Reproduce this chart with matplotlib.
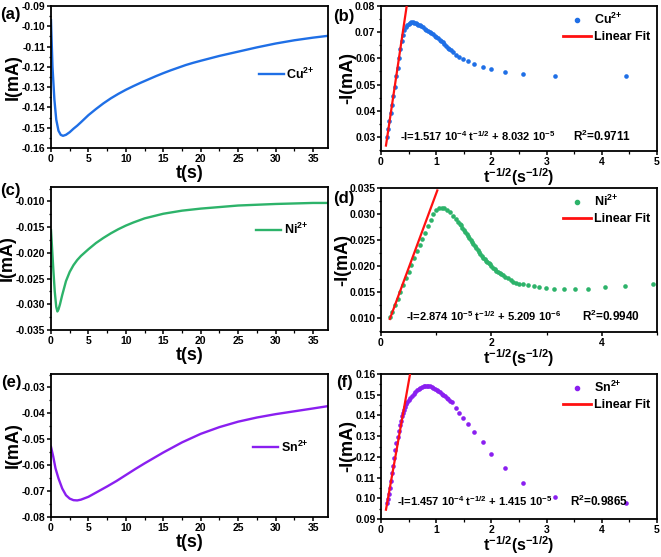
import numpy as np
import matplotlib
matplotlib.use("Agg")
import matplotlib.pyplot as plt
from matplotlib.ticker import MultipleLocator, FormatStrFormatter, AutoMinorLocator
from matplotlib.lines import Line2D

plt.rcParams['font.family'] = ['Liberation Sans', 'DejaVu Sans']
plt.rcParams['font.weight'] = 'bold'
plt.rcParams['axes.labelweight'] = 'bold'
plt.rcParams['mathtext.fontset'] = 'custom'
plt.rcParams['mathtext.rm'] = 'Liberation Sans:bold'
plt.rcParams['mathtext.bf'] = 'Liberation Sans:bold'
plt.rcParams['mathtext.default'] = 'rm'

# ---------- data ----------
# chronoamperometry, Cu
t_cu = [0, 0.05, 0.2, 0.45, 0.7, 1.0, 1.3, 1.6, 2.0, 2.5, 3.0, 3.5, 4, 5, 6, 7, 8, 9,
        10, 11, 12, 13, 14, 15, 16, 17, 18, 19, 20, 22.5, 25, 27.5, 30, 32.5, 35, 37]
i_cu = [-0.097, -0.103, -0.120, -0.136, -0.146, -0.1515, -0.1535, -0.154, -0.1535,
        -0.1522, -0.1505, -0.149, -0.1473, -0.1438, -0.1408, -0.1380, -0.1355, -0.1333,
        -0.1313, -0.1295, -0.1278, -0.1262, -0.1246, -0.1231, -0.1217, -0.1204, -0.1191,
        -0.1180, -0.1170, -0.1146, -0.1125, -0.1104, -0.1085, -0.1069, -0.1056, -0.1047]

# chronoamperometry, Ni
t_ni = [0, 0.1, 0.3, 0.5, 0.7, 0.85, 1.0, 1.2, 1.5, 2.0, 2.5, 3.0, 3.5, 4, 5, 6, 7,
        8, 9, 10, 11, 12.5, 15, 17.5, 20, 22.5, 25, 30, 35, 37]
i_ni = [-0.0156, -0.018, -0.023, -0.0275, -0.0305, -0.0314, -0.0310, -0.0300,
        -0.0282, -0.0255, -0.0237, -0.0224, -0.0214, -0.0206, -0.0193, -0.0181,
        -0.0171, -0.0162, -0.0154, -0.0147, -0.0141, -0.0133, -0.0124, -0.0118,
        -0.0114, -0.0111, -0.0108, -0.0105, -0.0103, -0.0103]

# chronoamperometry, Sn
t_sn = [0, 0.3, 0.6, 1.0, 1.5, 2.0, 2.5, 3.0, 3.5, 4, 5, 6, 7.5, 8.75, 10, 11.25,
        12.5, 15, 17.5, 20, 22.5, 25, 27.5, 30, 32.5, 35, 37]
i_sn = [-0.0529, -0.0567, -0.0612, -0.0651, -0.0690, -0.0716, -0.0729, -0.0735,
        -0.0736, -0.0733, -0.0722, -0.0706, -0.0682, -0.0661, -0.0638, -0.0615,
        -0.0593, -0.0551, -0.0512, -0.0479, -0.0453, -0.0432, -0.0416, -0.0403,
        -0.0392, -0.0381, -0.0372]

# -I vs t^-1/2, Cu
x_cu = [0.10, 0.125, 0.15, 0.175, 0.20, 0.225, 0.25, 0.275, 0.30, 0.325, 0.35, 0.375,
        0.40, 0.425, 0.45, 0.475, 0.50, 0.525, 0.55, 0.575, 0.60, 0.625, 0.65, 0.675,
        0.70, 0.73, 0.76, 0.79, 0.82, 0.85, 0.88, 0.91, 0.94, 0.97, 1.00, 1.03, 1.06,
        1.09, 1.12, 1.15, 1.18, 1.21, 1.24, 1.27, 1.30, 1.35, 1.42, 1.49, 1.58, 1.69,
        1.84, 2.0, 2.24, 2.58, 3.16, 4.43]
y_cu = [0.030, 0.033, 0.036, 0.039, 0.042, 0.0455, 0.049, 0.0532, 0.0565, 0.060,
        0.0635, 0.0665, 0.069, 0.0708, 0.072, 0.0728, 0.0733, 0.0736, 0.0737, 0.0737,
        0.0736, 0.0734, 0.0731, 0.0729, 0.0727, 0.0723, 0.0719, 0.0714, 0.0710, 0.0706,
        0.0701, 0.0697, 0.0692, 0.0687, 0.0682, 0.0677, 0.0672, 0.0667, 0.0661, 0.0654,
        0.0647, 0.0641, 0.0636, 0.0630, 0.0625, 0.0614, 0.0605, 0.0596, 0.0589, 0.058,
        0.0568, 0.0558, 0.0547, 0.054, 0.0532, 0.0532]

# -I vs t^-1/2, Ni
x_ni = [0.16, 0.20, 0.25, 0.30, 0.35, 0.40, 0.45, 0.50, 0.55, 0.60, 0.65, 0.70, 0.75,
        0.80, 0.85, 0.90, 0.95, 1.00, 1.05, 1.10, 1.15, 1.20, 1.25, 1.30, 1.35, 1.40,
        1.425, 1.45, 1.475, 1.50, 1.525, 1.55, 1.575, 1.60, 1.625, 1.65, 1.675, 1.70,
        1.725, 1.75, 1.775, 1.80, 1.825, 1.85, 1.875, 1.90, 1.925, 1.95, 1.975, 2.00,
        2.03, 2.06, 2.09, 2.12, 2.15, 2.18, 2.21, 2.25, 2.30, 2.35, 2.40, 2.45, 2.50,
        2.57, 2.67, 2.77, 2.87, 2.99, 3.14, 3.31, 3.51, 3.75, 4.05, 4.42, 4.92]
y_ni = [0.0102, 0.0111, 0.0124, 0.0137, 0.0150, 0.0163, 0.0176, 0.0189, 0.0202,
        0.0215, 0.0228, 0.0240, 0.0252, 0.0264, 0.0277, 0.0289, 0.0300, 0.0307,
        0.0311, 0.0312, 0.0311, 0.0308, 0.0303, 0.0297, 0.0291, 0.0285,
        0.0281, 0.0278, 0.0274, 0.0270, 0.0266, 0.0262, 0.0258, 0.0254, 0.0250,
        0.0246, 0.0242, 0.0238, 0.0234, 0.0230, 0.0227, 0.0223, 0.0220, 0.0216,
        0.0213, 0.0210, 0.0208, 0.0205, 0.0203, 0.0200, 0.0197, 0.0194, 0.0191,
        0.0188, 0.0186, 0.0184, 0.0182, 0.0179, 0.0176, 0.0173, 0.0170, 0.0168,
        0.0166, 0.01645, 0.01626, 0.01607, 0.01593, 0.01574, 0.01561, 0.01555,
        0.01555, 0.01561, 0.01588, 0.01613, 0.01646]

# -I vs t^-1/2, Sn
x_sn = [0.10, 0.12, 0.14, 0.16, 0.18, 0.20, 0.22, 0.24, 0.26, 0.28, 0.30, 0.32, 0.34,
        0.36, 0.38, 0.40, 0.42, 0.44, 0.46, 0.48, 0.50, 0.53, 0.56, 0.59, 0.62, 0.65,
        0.68, 0.71, 0.74, 0.77, 0.80, 0.83, 0.86, 0.89, 0.92, 0.95, 0.98, 1.01, 1.04,
        1.07, 1.10, 1.13, 1.16, 1.19, 1.22, 1.25, 1.28, 1.35, 1.42, 1.49, 1.58, 1.69,
        1.84, 2.0, 2.24, 2.58, 3.16, 4.43]
y_sn = [0.0975, 0.0995, 0.102, 0.105, 0.1085, 0.112, 0.1158, 0.1195, 0.1232, 0.1268,
        0.1298, 0.1326, 0.1352, 0.1375, 0.1395, 0.1412, 0.1428, 0.1441, 0.1453, 0.1464,
        0.1473, 0.1485, 0.1495, 0.1504, 0.1513, 0.1521, 0.1528, 0.1534, 0.1539, 0.1542,
        0.1543, 0.1543, 0.1542, 0.1540, 0.1537, 0.1533, 0.1528, 0.1523, 0.1517, 0.1511,
        0.1505, 0.1499, 0.1493, 0.1486, 0.1479, 0.1472, 0.1465, 0.1435, 0.1414, 0.1389,
        0.1357, 0.132, 0.1273, 0.1214, 0.1146, 0.1073, 0.1008, 0.0976]

# linear fits as drawn (slope, intercept in mA, x range)
fit_cu = (0.142, 0.0139, 0.09, 0.48)
fit_ni = (0.02874, 0.005209, 0.16, 1.02)
fit_sn = (0.150, 0.081, 0.09, 0.54)

eq_cu = r"-I=1.517 10$^{-4}$ t$^{-1/2}$ + 8.032 10$^{-5}$"
eq_ni = r"-I=2.874 10$^{-5}$ t$^{-1/2}$ + 5.209 10$^{-6}$"
eq_sn = r"-I=1.457 10$^{-4}$ t$^{-1/2}$ + 1.415 10$^{-5}$"
r2_cu = r"R$^2$=0.9711"
r2_ni = r"R$^2$=0.9940"
r2_sn = r"R$^2$=0.9865"

lab_cu = r'Cu$^{2{+}}$'
lab_ni = r'Ni$^{2{+}}$'
lab_sn = r'Sn$^{2{+}}$'

c_cu = '#1f6fe6'
c_ni = '#2db36a'
c_sn = '#8a1ff0'
c_fit = '#ff1010'

W, H = 661, 557
fig = plt.figure(figsize=(W / 100, H / 100), dpi=100)


def box(l, r, t, b):
    return [l / W, (H - b) / H, (r - l) / W, (b - t) / H]


def style(ax, fmt):
    for s in ax.spines.values():
        s.set_linewidth(1.3)
    ax.tick_params(which='major', direction='out', length=3, width=1.1,
                   labelsize=7.5, pad=1)
    ax.tick_params(which='minor', direction='out', length=1.8, width=0.9)
    ax.yaxis.set_major_formatter(FormatStrFormatter(fmt))
    ax.xaxis.set_minor_locator(AutoMinorLocator(2))
    ax.yaxis.set_minor_locator(AutoMinorLocator(2))
    for lab in ax.get_xticklabels() + ax.get_yticklabels():
        lab.set_fontweight('bold')


def time_panel(rect, t, i, color, label, ylim, ystep, fmt, leg_xy):
    ax = fig.add_axes(rect)
    ax.plot(t, i, color=color, lw=1.7, label=label)
    ax.set_xlim(0, 37)
    ax.set_ylim(*ylim)
    ax.xaxis.set_major_locator(MultipleLocator(5))
    ax.yaxis.set_major_locator(MultipleLocator(ystep))
    style(ax, fmt)
    ax.set_xlabel('t(s)', fontsize=13, labelpad=1)
    ax.set_ylabel('I(mA)', fontsize=13, labelpad=0)
    ax.legend(loc='center left', bbox_to_anchor=leg_xy, frameon=False,
              fontsize=9, handlelength=2.0, handletextpad=0.2)
    return ax


def fit_panel(rect, x, y, color, label, fit, ylim, ystep, fmt, xstep, eq, r2, eq_pos, r2_pos):
    ax = fig.add_axes(rect)
    ax.scatter(x, y, s=11, color=color, linewidths=0, zorder=2)
    k, b, x0, x1 = fit
    xf = np.array([x0, x1])
    ax.plot(xf, k * xf + b, color=c_fit, lw=1.6, zorder=3)
    ax.set_xlim(0, 5)
    ax.set_ylim(*ylim)
    ax.xaxis.set_major_locator(MultipleLocator(xstep))
    ax.yaxis.set_major_locator(MultipleLocator(ystep))
    style(ax, fmt)
    ax.xaxis.set_major_formatter(FormatStrFormatter('%d'))
    ax.set_xlabel(r't$^{-1/2}$(s$^{-1/2}$)', fontsize=11.5, labelpad=0)
    ax.set_ylabel('-I(mA)', fontsize=13, labelpad=-1)
    handles = [Line2D([], [], ls='none', marker='o', ms=3, color=color),
               Line2D([], [], color=c_fit, lw=2)]
    ax.legend(handles, [label, 'Linear Fit'], loc='upper right', frameon=False,
              fontsize=9, handlelength=2.2, handletextpad=0.3, borderaxespad=0.1,
              labelspacing=0.3)
    ax.text(eq_pos[0], eq_pos[1], eq, transform=ax.transAxes, fontsize=8,
            fontweight='bold', va='center')
    ax.text(r2_pos[0], r2_pos[1], r2, transform=ax.transAxes, fontsize=8.5,
            fontweight='bold', va='center')
    return ax


time_panel(box(51, 328, 6, 148), t_cu, i_cu, c_cu, lab_cu,
           (-0.16, -0.09), 0.01, '%.2f', (0.71, 0.52))
time_panel(box(51, 328, 187, 330), t_ni, i_ni, c_ni, lab_ni,
           (-0.035, -0.0072), 0.005, '%.3f', (0.70, 0.70))
time_panel(box(51, 328, 374, 517), t_sn, i_sn, c_sn, lab_sn,
           (-0.08, -0.0248), 0.01, '%.2f', (0.69, 0.49))

fit_panel(box(381, 657, 6, 151), x_cu, y_cu, c_cu, lab_cu, fit_cu,
          (0.0246, 0.08), 0.01, '%.2f', 1, eq_cu, r2_cu, (0.07, 0.10), (0.695, 0.10))
fit_panel(box(381, 657, 188, 332), x_ni, y_ni, c_ni, lab_ni, fit_ni,
          (0.0073, 0.035), 0.005, '%.3f', 2, eq_ni, r2_ni, (0.09, 0.11), (0.73, 0.11))
fit_panel(box(381, 657, 374, 519), x_sn, y_sn, c_sn, lab_sn, fit_sn,
          (0.09, 0.16), 0.01, '%.2f', 1, eq_sn, r2_sn, (0.057, 0.12), (0.685, 0.12))

for lab, px, py in [('(a)', 0, 14), ('(b)', 333, 16), ('(c)', 0, 191),
                    ('(d)', 333, 198), ('(e)', 1, 383), ('(f)', 336, 383)]:
    fig.text(px / W, 1 - py / H, lab, fontsize=12, fontweight='bold', va='center')

fig.savefig('out.png', dpi=100)
